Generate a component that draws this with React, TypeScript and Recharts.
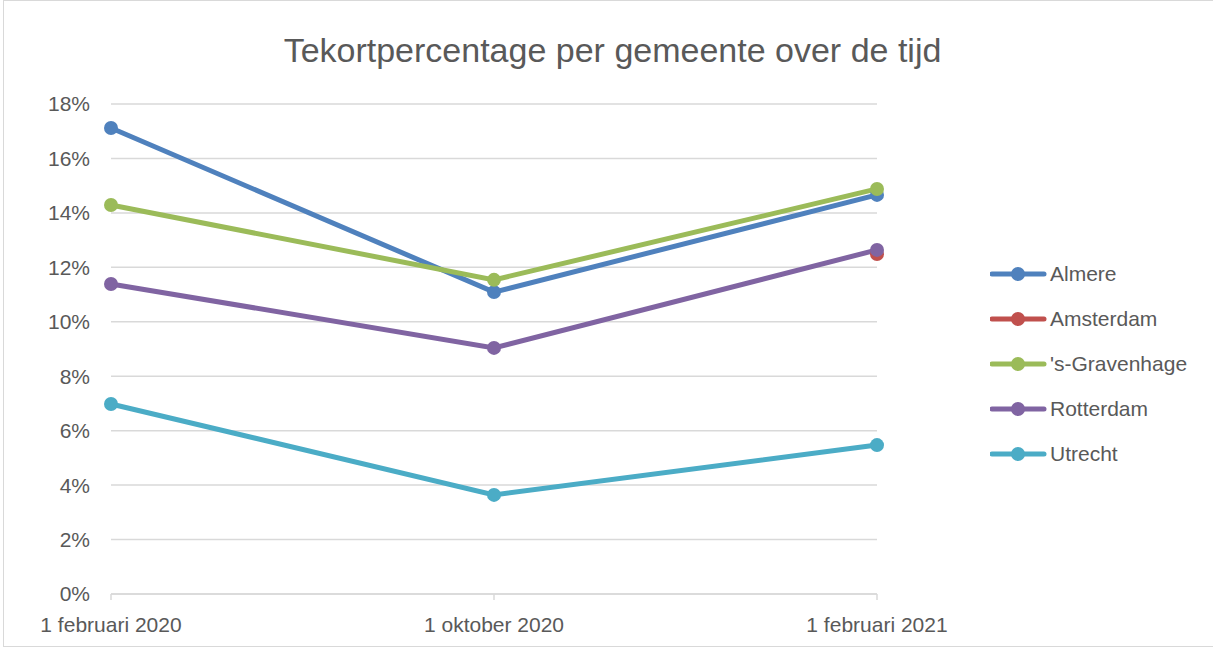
import React from "react";
import { LineChart, Line, XAxis, YAxis, CartesianGrid } from "recharts";

const categories = ["1 februari 2020", "1 oktober 2020", "1 februari 2021"];
const almere = [17.12, 11.09, 14.66];
const amsterdam = [null, null, 12.49];
const gravenhage = [14.29, 11.54, 14.88];
const rotterdam = [11.39, 9.04, 12.64];
const utrecht = [6.98, 3.64, 5.47];
const yTicks = [0, 2, 4, 6, 8, 10, 12, 14, 16, 18];

const seriesNames = ["Almere", "Amsterdam", "'s-Gravenhage", "Rotterdam", "Utrecht"];
const seriesValues: (number | null)[][] = [almere, amsterdam, gravenhage, rotterdam, utrecht];
const colors = ["#4f81bd", "#c0504d", "#9bbb59", "#8064a2", "#4bacc6"];

const data = categories.map((c, i) => {
  const row: Record<string, string | number | null> = { cat: c };
  seriesNames.forEach((n, k) => {
    row[n] = seriesValues[k][i];
  });
  return row;
});

const FONT = "'Liberation Sans', Arial, sans-serif";
const TEXT = "#595959";

export default function App() {
  return (
    <div
      style={{
        position: "absolute",
        left: 0,
        top: 0,
        width: 1213,
        height: 650,
        background: "#fff",
        fontFamily: FONT,
      }}
    >
      <div
        style={{
          position: "absolute",
          left: 3,
          top: 0,
          width: 1230,
          height: 647,
          border: "1px solid #d9d9d9",
          boxSizing: "border-box",
        }}
      />
      <div
        style={{
          position: "absolute",
          left: 0,
          top: 31,
          width: 1225,
          textAlign: "center",
          fontSize: 34,
          color: TEXT,
          fontFamily: FONT,
        }}
      >
        Tekortpercentage per gemeente over de tijd
      </div>
      <div style={{ position: "absolute", left: 0, top: 0 }}>
        <LineChart
          width={1213}
          height={650}
          data={data}
          margin={{ top: 104, right: 336, bottom: 16, left: 0 }}
        >
          <CartesianGrid vertical={false} stroke="#d9d9d9" strokeWidth={1.5} />
          <XAxis
            dataKey="cat"
            height={40}
            padding={{ left: 0, right: 0 }}
            axisLine={{ stroke: "#d9d9d9", strokeWidth: 1.5 }}
            tickLine={{ stroke: "#d9d9d9", strokeWidth: 1.5 }}
            tickSize={6}
            tickMargin={17}
            interval={0}
            tick={{ fill: TEXT, fontSize: 21, fontFamily: FONT }}
          />
          <YAxis
            width={111}
            domain={[0, 18]}
            ticks={yTicks}
            interval={0}
            axisLine={false}
            tickLine={false}
            tickSize={0}
            tickMargin={21}
            tickFormatter={(v: number) => `${v}%`}
            tick={{ fill: TEXT, fontSize: 21, fontFamily: FONT }}
          />
          {seriesNames.map((n, k) => (
            <Line
              key={n}
              dataKey={n}
              type="linear"
              stroke={colors[k]}
              strokeWidth={5}
              dot={{ r: 7, fill: colors[k], stroke: colors[k], strokeWidth: 0 }}
              activeDot={false}
              isAnimationActive={false}
            />
          ))}
        </LineChart>
      </div>
      {seriesNames.map((n, k) => (
        <div
          key={n}
          style={{
            position: "absolute",
            left: 990,
            top: 274 + k * 45 - 14,
            height: 28,
            display: "flex",
            alignItems: "center",
          }}
        >
          <svg width={58} height={28}>
            <line x1={2} y1={14} x2={54} y2={14} stroke={colors[k]} strokeWidth={5} strokeLinecap="round" />
            <circle cx={28} cy={14} r={7} fill={colors[k]} />
          </svg>
          <span style={{ fontSize: 21, color: TEXT, fontFamily: FONT, marginLeft: 2 }}>{n}</span>
        </div>
      ))}
    </div>
  );
}
